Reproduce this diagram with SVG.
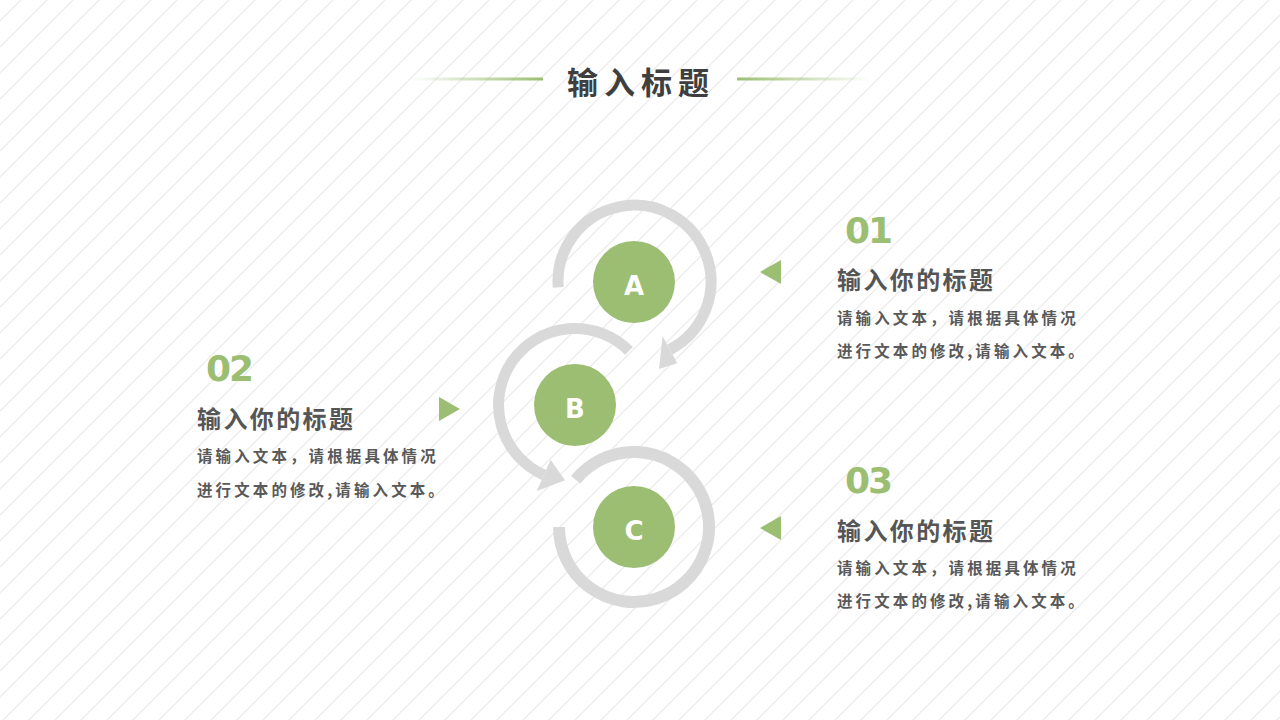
<svg xmlns="http://www.w3.org/2000/svg" width="1280" height="720" viewBox="0 0 1280 720">
<defs>
<pattern id="bg" patternUnits="userSpaceOnUse" width="26" height="26" patternTransform="translate(21,0)">
<path d="M-2,28 L28,-2 M-2,2 L2,-2 M24,28 L28,24" stroke="#ececec" stroke-width="1.3" fill="none"/>
</pattern>
<linearGradient id="gl" x1="0" y1="0" x2="1" y2="0">
<stop offset="0" stop-color="#9bbe72" stop-opacity="0"/>
<stop offset="1" stop-color="#9bbe72"/>
</linearGradient>
<linearGradient id="gr" x1="0" y1="0" x2="1" y2="0">
<stop offset="0" stop-color="#9bbe72"/>
<stop offset="1" stop-color="#9bbe72" stop-opacity="0"/>
</linearGradient>
<style>
.arc{fill:none;stroke:#d9d9d9;}
.head{fill:#d9d9d9;}
.dot{fill:#9bbe72;}
.letter{font-family:"DejaVu Sans","Liberation Sans",sans-serif;font-weight:700;font-size:26px;fill:#ffffff;text-anchor:middle;}
.num{font-family:"DejaVu Sans","Liberation Sans",sans-serif;font-weight:700;font-size:36px;fill:#9bbe72;letter-spacing:-2px;}
.h{font-family:"Noto Sans CJK SC","Noto Sans",sans-serif;font-weight:700;font-size:24px;fill:#555555;letter-spacing:2.4px;}
.b{font-family:"Noto Sans CJK SC","Noto Sans",sans-serif;font-weight:700;font-size:15.5px;fill:#595959;letter-spacing:3.1px;}
.tri{fill:#9bbe72;}
</style>
</defs>
<rect width="1280" height="720" fill="#ffffff"/>
<rect width="1280" height="720" fill="url(#bg)"/>

<g id="title">
<rect x="410" y="77.5" width="133" height="3" fill="url(#gl)"/>
<rect x="737" y="77.5" width="133" height="3" fill="url(#gr)"/>
<text x="641" y="94" text-anchor="middle" font-family="'Noto Sans CJK SC','Noto Sans',sans-serif" font-weight="700" font-size="31" fill="#3f3f3f" letter-spacing="6">输入标题</text>
</g>

<g id="connectors">
<path class="arc" stroke-width="11" d="M 558.2 287.3 A 76.5 76.5 0 1 1 669.9 349.5"/>
<polygon class="head" points="662.6,335.9 677.2,363.2 659,369"/>
<path class="arc" stroke-width="11" d="M 629.1 350.9 A 76.5 76.5 0 1 0 543.9 474.9"/>
<polygon class="head" points="550.6,459.8 536.8,490.9 565,480.3"/>
<path class="arc" stroke-width="12" d="M 575.7 479.8 A 75 75 0 1 1 559 527"/>
</g>

<g id="nodeA">
<circle class="dot" cx="634" cy="282" r="41"/>
<text class="letter" x="634" y="295">A</text>
</g>
<g id="nodeB">
<circle class="dot" cx="575" cy="405" r="41"/>
<text class="letter" x="575" y="418">B</text>
</g>
<g id="nodeC">
<circle class="dot" cx="634" cy="527" r="41"/>
<text class="letter" x="634" y="540">C</text>
</g>

<g id="item01">
<text class="num" x="845" y="243">01</text>
<polygon class="tri" points="781,260 781,284 760,272"/>
<text class="h" x="837" y="289">输入你的标题</text>
<text class="b" x="837" y="324">请输入文本，请根据具体情况</text>
<text class="b" x="837" y="357">进行文本的修改,请输入文本。</text>
</g>

<g id="item02">
<text class="num" x="206" y="381">02</text>
<polygon class="tri" points="439,397 439,421 460,409"/>
<text class="h" x="197" y="428">输入你的标题</text>
<text class="b" x="197" y="462">请输入文本，请根据具体情况</text>
<text class="b" x="197" y="496">进行文本的修改,请输入文本。</text>
</g>

<g id="item03">
<text class="num" x="845" y="493">03</text>
<polygon class="tri" points="781,516 781,540 760,528"/>
<text class="h" x="837" y="540">输入你的标题</text>
<text class="b" x="837" y="574">请输入文本，请根据具体情况</text>
<text class="b" x="837" y="607">进行文本的修改,请输入文本。</text>
</g>
</svg>
